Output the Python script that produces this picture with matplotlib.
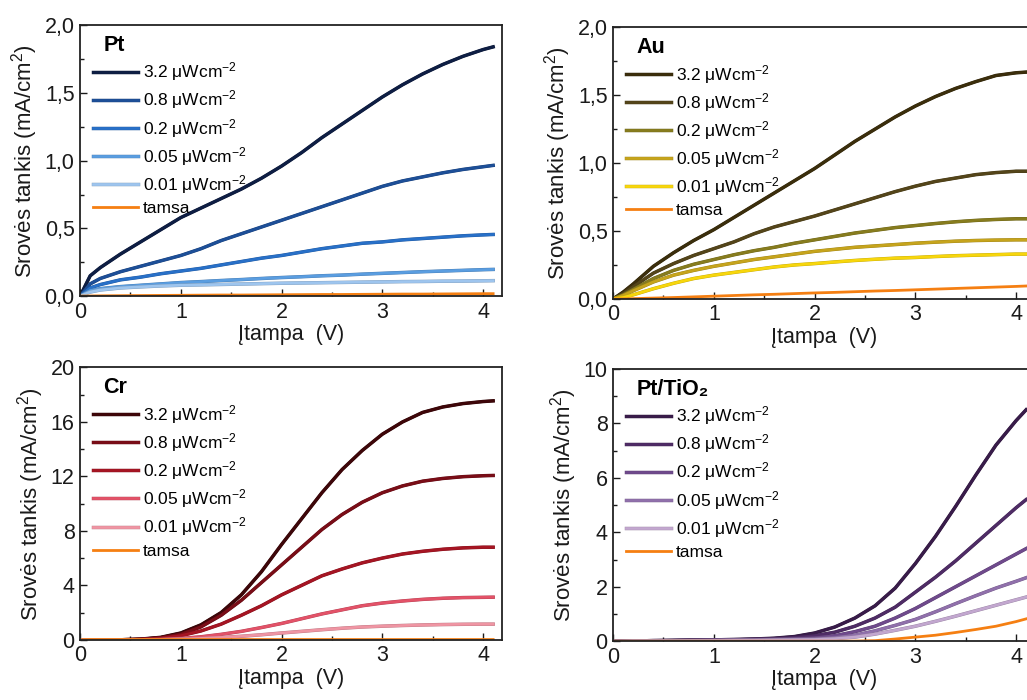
import matplotlib
matplotlib.use("Agg")
import matplotlib.pyplot as plt
import matplotlib.patheffects as pe
from matplotlib.ticker import FuncFormatter, MultipleLocator

plt.rcParams["font.family"] = ["Liberation Sans", "DejaVu Sans"]
plt.rcParams["mathtext.fontset"] = "custom"
plt.rcParams["mathtext.rm"] = "Liberation Sans"
plt.rcParams["mathtext.it"] = "Liberation Sans:italic"

# voltage grid (V) shared by all curves
V = [0, 0.1, 0.2, 0.4, 0.6, 0.8, 1.0, 1.2, 1.4, 1.6, 1.8, 2.0,
     2.2, 2.4, 2.6, 2.8, 3.0, 3.2, 3.4, 3.6, 3.8, 4.0, 4.1]

intensities = ["3.2", "0.8", "0.2", "0.05", "0.01"]

# current density, mA/cm2 -- order: 3.2, 0.8, 0.2, 0.05, 0.01, dark
pt_j = [
    [0, 0.15, 0.21, 0.31, 0.40, 0.49, 0.58, 0.65, 0.72, 0.79, 0.87, 0.96, 1.06, 1.17, 1.27, 1.37, 1.47, 1.56, 1.64, 1.71, 1.77, 1.82, 1.84],
    [0, 0.09, 0.13, 0.18, 0.22, 0.26, 0.30, 0.35, 0.41, 0.46, 0.51, 0.56, 0.61, 0.66, 0.71, 0.76, 0.81, 0.85, 0.88, 0.91, 0.935, 0.955, 0.965],
    [0, 0.06, 0.085, 0.12, 0.14, 0.165, 0.185, 0.205, 0.23, 0.255, 0.28, 0.30, 0.325, 0.35, 0.37, 0.39, 0.40, 0.415, 0.425, 0.435, 0.445, 0.452, 0.455],
    [0, 0.04, 0.055, 0.07, 0.08, 0.09, 0.10, 0.107, 0.115, 0.122, 0.13, 0.137, 0.143, 0.15, 0.155, 0.162, 0.168, 0.174, 0.18, 0.185, 0.19, 0.195, 0.197],
    [0, 0.03, 0.045, 0.06, 0.068, 0.075, 0.08, 0.083, 0.086, 0.089, 0.092, 0.095, 0.097, 0.099, 0.101, 0.103, 0.105, 0.107, 0.108, 0.11, 0.111, 0.113, 0.114],
    [0, 0.001, 0.002, 0.003, 0.004, 0.005, 0.006, 0.007, 0.008, 0.008, 0.009, 0.01, 0.011, 0.012, 0.012, 0.013, 0.014, 0.015, 0.015, 0.016, 0.017, 0.018, 0.018],
]
au_j = [
    [0, 0.05, 0.11, 0.24, 0.34, 0.43, 0.51, 0.60, 0.69, 0.78, 0.87, 0.96, 1.06, 1.16, 1.25, 1.34, 1.42, 1.49, 1.55, 1.60, 1.645, 1.665, 1.67],
    [0, 0.04, 0.09, 0.19, 0.26, 0.32, 0.37, 0.42, 0.48, 0.53, 0.57, 0.61, 0.655, 0.70, 0.745, 0.79, 0.83, 0.865, 0.89, 0.915, 0.93, 0.94, 0.94],
    [0, 0.03, 0.07, 0.15, 0.21, 0.255, 0.29, 0.325, 0.355, 0.38, 0.41, 0.435, 0.46, 0.485, 0.505, 0.525, 0.54, 0.555, 0.568, 0.578, 0.585, 0.59, 0.59],
    [0, 0.025, 0.06, 0.125, 0.175, 0.21, 0.24, 0.265, 0.29, 0.31, 0.33, 0.35, 0.365, 0.38, 0.39, 0.40, 0.41, 0.418, 0.425, 0.43, 0.433, 0.435, 0.435],
    [0, 0.01, 0.03, 0.075, 0.115, 0.15, 0.175, 0.195, 0.215, 0.235, 0.25, 0.26, 0.272, 0.283, 0.292, 0.30, 0.305, 0.312, 0.318, 0.322, 0.326, 0.33, 0.33],
    [0, 0, 0.002, 0.006, 0.01, 0.015, 0.02, 0.025, 0.03, 0.034, 0.039, 0.044, 0.048, 0.053, 0.058, 0.062, 0.067, 0.072, 0.077, 0.082, 0.087, 0.092, 0.095],
]
cr_j = [
    [0, 0, 0, 0, 0.05, 0.18, 0.5, 1.1, 2.0, 3.3, 5.0, 7.0, 8.9, 10.8, 12.5, 13.9, 15.1, 16.0, 16.7, 17.1, 17.35, 17.5, 17.55],
    [0, 0, 0, 0, 0.04, 0.15, 0.4, 0.95, 1.8, 2.9, 4.2, 5.5, 6.8, 8.1, 9.2, 10.1, 10.8, 11.3, 11.65, 11.85, 11.98, 12.05, 12.07],
    [0, 0, 0, 0, 0.03, 0.1, 0.3, 0.65, 1.15, 1.8, 2.5, 3.3, 4.0, 4.7, 5.2, 5.65, 6.0, 6.3, 6.5, 6.65, 6.75, 6.8, 6.8],
    [0, 0, 0, 0, 0, 0.03, 0.1, 0.22, 0.4, 0.62, 0.9, 1.2, 1.55, 1.9, 2.2, 2.5, 2.7, 2.85, 2.97, 3.05, 3.1, 3.12, 3.13],
    [0, 0, 0, 0, 0, 0.01, 0.05, 0.1, 0.17, 0.26, 0.37, 0.5, 0.62, 0.74, 0.85, 0.94, 1.0, 1.05, 1.09, 1.12, 1.14, 1.15, 1.15],
    [0, 0.02, 0.02, 0.02, 0.02, 0.02, 0.02, 0.02, 0.02, 0.02, 0.02, 0.02, 0.02, 0.02, 0.02, 0.02, 0.02, 0.02, 0.02, 0.02, 0.02, 0.02, 0.02],
]
tio2_j = [
    [0, 0.01, 0.01, 0.02, 0.03, 0.04, 0.05, 0.06, 0.08, 0.11, 0.17, 0.3, 0.52, 0.85, 1.3, 1.95, 2.85, 3.85, 4.95, 6.1, 7.2, 8.1, 8.5],
    [0, 0.01, 0.01, 0.02, 0.03, 0.04, 0.05, 0.06, 0.07, 0.09, 0.13, 0.2, 0.33, 0.55, 0.85, 1.25, 1.8, 2.35, 2.95, 3.6, 4.25, 4.9, 5.2],
    [0, 0.01, 0.01, 0.02, 0.02, 0.03, 0.04, 0.05, 0.06, 0.07, 0.09, 0.12, 0.2, 0.35, 0.55, 0.85, 1.2, 1.6, 2.0, 2.4, 2.8, 3.2, 3.4],
    [0, 0.01, 0.01, 0.01, 0.02, 0.02, 0.03, 0.04, 0.05, 0.06, 0.07, 0.08, 0.13, 0.22, 0.38, 0.58, 0.8, 1.08, 1.38, 1.67, 1.95, 2.2, 2.33],
    [0, 0, 0.01, 0.01, 0.01, 0.02, 0.02, 0.03, 0.03, 0.04, 0.05, 0.06, 0.09, 0.15, 0.26, 0.4, 0.55, 0.73, 0.92, 1.12, 1.32, 1.52, 1.62],
    [0, 0, 0, 0, 0, 0, 0, 0, 0, 0, 0, 0, 0, 0.005, 0.02, 0.08, 0.15, 0.22, 0.32, 0.43, 0.55, 0.72, 0.82],
]

dark_color = "#f57f12"
pt_colors = ["#0e1e44", "#1d4f98", "#2870c8", "#5a9de0", "#9ec5ee"]
au_colors = ["#3b2e0c", "#54451a", "#877c1e", "#c6a41c", "#f7d60c"]
cr_colors = ["#3e0609", "#7a0d17", "#a61523", "#e35268", "#ef95a3"]
tio2_colors = ["#391c4a", "#4f2c66", "#6f4a8c", "#9070ab", "#c2a7cf"]

panels = [
    # (title, data, colours, axes rect, ylim, major, minor, comma decimals)
    ("Pt", pt_j, pt_colors, [0.078, 0.577, 0.411, 0.387], 2.0, 0.5, 0.25, True),
    ("Au", au_j, au_colors, [0.597, 0.573, 0.411, 0.388], 2.0, 0.5, 0.25, True),
    ("Cr", cr_j, cr_colors, [0.078, 0.086, 0.411, 0.389], 20, 4, 2, False),
    ("Pt/TiO₂", tio2_j, tio2_colors, [0.597, 0.084, 0.411, 0.389], 10, 2, 1, False),
]


def darker(c, f=0.78):
    r, g, b = matplotlib.colors.to_rgb(c)
    return (r * f, g * f, b * f)


fig = plt.figure(figsize=(10.27, 7.0), dpi=100)

for title, data, colors, rect, ymax, major, minor, comma in panels:
    ax = fig.add_axes(rect)
    for j, lab, c in zip(data[:5], intensities, colors):
        ax.plot(V, j, color=c, lw=2.0,
                label=f"{lab} $\\mathrm{{\\mu}}$Wcm$^{{-2}}$",
                path_effects=[pe.Stroke(linewidth=2.5, foreground=darker(c)),
                              pe.Normal()])
    ax.plot(V, data[5], color=dark_color, lw=2.0, label="tamsa")

    ax.set_xlim(0, 4.19)
    ax.set_ylim(0, ymax)
    ax.xaxis.set_major_locator(MultipleLocator(1))
    ax.xaxis.set_minor_locator(MultipleLocator(0.5))
    ax.yaxis.set_major_locator(MultipleLocator(major))
    ax.yaxis.set_minor_locator(MultipleLocator(minor))
    if comma:
        ax.yaxis.set_major_formatter(
            FuncFormatter(lambda v, p: f"{v:.1f}".replace(".", ",")))
    else:
        ax.yaxis.set_major_formatter(FuncFormatter(lambda v, p: f"{v:.0f}"))
    ax.tick_params(which="both", direction="in", top=False, right=False,
                   labelsize=15.5, width=1.0, colors="#1a1a1a")
    ax.tick_params(which="major", length=5, pad=4)
    ax.tick_params(which="minor", length=3)
    for s in ax.spines.values():
        s.set_linewidth(1.3)
        s.set_color("#222222")

    ax.set_xlabel("Įtampa  (V)", fontsize=15.5, labelpad=1, color="#1a1a1a")
    ax.set_ylabel("Srovės tankis (mA/cm$^2$)", fontsize=16, labelpad=3,
                  color="#1a1a1a")

    ax.text(0.055, 0.925, title, transform=ax.transAxes, fontsize=15.5,
            fontweight="bold", va="center", ha="left")
    ax.legend(loc="upper left", bbox_to_anchor=(0.03, 0.87), frameon=False,
              fontsize=12.5, handlelength=2.6, handletextpad=0.3,
              labelspacing=0.3, borderaxespad=0.0, borderpad=0.0)

fig.savefig("out.png", dpi=100)
